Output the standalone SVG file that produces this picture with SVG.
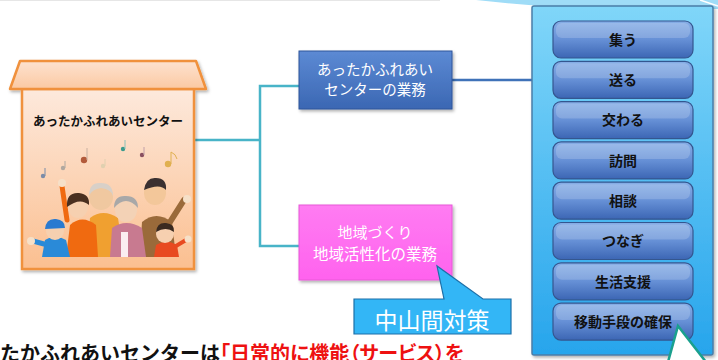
<svg xmlns="http://www.w3.org/2000/svg" width="718" height="360" viewBox="0 0 718 360">
  <defs>
    <linearGradient id="gHouse" x1="0" y1="0" x2="0" y2="1">
      <stop offset="0" stop-color="#fde9dc"/>
      <stop offset="1" stop-color="#fbbf90"/>
    </linearGradient>
    <linearGradient id="gRoof" x1="0" y1="0" x2="0" y2="1">
      <stop offset="0" stop-color="#fde2d0"/>
      <stop offset="1" stop-color="#fbc9a2"/>
    </linearGradient>
    <linearGradient id="gBlue" x1="0" y1="0" x2="0" y2="1">
      <stop offset="0" stop-color="#5c8ad4"/>
      <stop offset="1" stop-color="#3b67b3"/>
    </linearGradient>
    <linearGradient id="gPink" x1="0" y1="0" x2="0" y2="1">
      <stop offset="0" stop-color="#ff7cf2"/>
      <stop offset="1" stop-color="#ff62ee"/>
    </linearGradient>
    <linearGradient id="gPanel" x1="0" y1="0" x2="0" y2="1">
      <stop offset="0" stop-color="#80d6f9"/>
      <stop offset="1" stop-color="#27a5ec"/>
    </linearGradient>
    <linearGradient id="gBtn" x1="0" y1="0" x2="0" y2="1">
      <stop offset="0" stop-color="#86aee6"/>
      <stop offset="0.5" stop-color="#6690d6"/>
      <stop offset="1" stop-color="#3c66b4"/>
    </linearGradient>
    <filter id="shadow" x="-10%" y="-10%" width="130%" height="130%">
      <feDropShadow dx="1.5" dy="2" stdDeviation="1.5" flood-color="#000" flood-opacity="0.3"/>
    </filter>
    <style>
      text { font-family: "Noto Sans CJK JP", "Noto Sans", sans-serif; }
      .btn rect.b { fill: url(#gBtn); stroke: #34568f; stroke-width: 1.2; }
      .btn rect.h { fill: #ffffff; opacity: 0.18; }
      .btn text { font-size: 14px; font-weight: bold; fill: #111; text-anchor: middle; }
      .conn { fill: none; stroke: #48b4c8; stroke-width: 2.5; }
      .wt { fill: #fff; text-anchor: middle; }
    </style>
  </defs>

  <!-- background sweep at the top right -->
  <path d="M476,0 C520,5 560,8 600,9 L718,9 L718,0 Z" fill="#9fdcf7"/>
  <path d="M700,0 L718,6" stroke="#ffffff" stroke-width="1.5"/>
  <line x1="0" y1="0.5" x2="440" y2="0.5" stroke="#e6e6e6" stroke-width="1"/>

  <!-- connectors -->
  <g id="connectors">
    <path class="conn" d="M194,140 L260,140"/>
    <path class="conn" d="M299,86 L260,86 L260,246 L299,246"/>
    <path d="M452,80 L533,80" fill="none" stroke="#3f72b8" stroke-width="2.5"/>
  </g>

  <!-- center house -->
  <g id="center">
    <g filter="url(#shadow)">
      <rect x="22" y="89" width="172" height="180" fill="url(#gHouse)" stroke="#f0913c" stroke-width="2.5"/>
      <path d="M20,61 L196,61 L206,89 L10,89 Z" fill="url(#gRoof)" stroke="#f0913c" stroke-width="2.5" stroke-linejoin="round"/>
    </g>
    <text x="108" y="126" font-size="12.5" font-weight="bold" fill="#111" text-anchor="middle">あったかふれあいセンター</text>
    <!-- music notes -->
    <g>
      <circle cx="43" cy="176" r="2.2" fill="#7b8ca8"/><line x1="45" y1="176" x2="45" y2="168" stroke="#7b8ca8"/>
      <circle cx="63" cy="168" r="2.2" fill="#b0a8a0"/><line x1="65" y1="168" x2="65" y2="161" stroke="#b0a8a0"/>
      <circle cx="84" cy="160" r="3.2" fill="#b25a3a"/><line x1="87" y1="160" x2="87" y2="148" stroke="#c8b0a0"/>
      <circle cx="103" cy="166" r="2.2" fill="#e0d0b0"/><line x1="105" y1="166" x2="105" y2="159" stroke="#e0d0b0"/>
      <circle cx="123" cy="149" r="2.2" fill="#3a9a8c"/><line x1="125" y1="149" x2="125" y2="140" stroke="#8ac0b8"/>
      <circle cx="142" cy="155" r="2.2" fill="#8a5060"/><line x1="144" y1="155" x2="144" y2="147" stroke="#c0a0a8"/>
      <circle cx="168" cy="164" r="3.2" fill="#e0b050"/><line x1="171" y1="164" x2="171" y2="152" stroke="#e0b050"/><path d="M171,152 Q176,154 177,159" stroke="#e0b050" fill="none"/>
    </g>
    <!-- group of people -->
    <g>
      <!-- man on the right -->
      <path d="M140,257 L142,222 Q156,210 172,222 L176,257 Z" fill="#9a6a3a"/>
      <path d="M170,222 L184,200" stroke="#9a6a3a" stroke-width="6" stroke-linecap="round"/>
      <circle cx="187" cy="199" r="4" fill="#f6e0c8"/>
      <ellipse cx="155" cy="193" rx="11" ry="12" fill="#f3c79a"/>
      <path d="M144,190 Q146,177 156,178 Q167,178 166,190 Q160,183 144,190 Z" fill="#3a3030"/>
      <!-- bald old man -->
      <path d="M86,257 L90,218 Q103,208 118,218 L124,257 Z" fill="#f0a030"/>
      <ellipse cx="101" cy="197" rx="12" ry="13" fill="#f0c8a0"/>
      <path d="M89,196 Q89,182 101,183 Q113,183 113,196 Q111,189 101,188 Q92,189 89,196 Z" fill="#d8d0c8"/>
      <!-- woman with dark hair -->
      <path d="M66,257 L70,225 Q82,214 96,225 L98,257 Z" fill="#f06a10"/>
      <path d="M67,220 L62,186" stroke="#f06a10" stroke-width="5" stroke-linecap="round"/>
      <circle cx="62" cy="183" r="4" fill="#f6e0c8"/>
      <ellipse cx="78" cy="207" rx="10" ry="11" fill="#f6d0b0"/>
      <path d="M67,207 Q66,192 79,193 Q90,194 89,205 Q80,197 67,207 Z" fill="#4a3020"/>
      <!-- old woman -->
      <path d="M110,257 L112,228 Q126,218 142,228 L146,257 Z" fill="#c87a90"/>
      <rect x="121" y="232" width="7" height="25" fill="#fbeef0"/>
      <ellipse cx="126" cy="210" rx="11" ry="12" fill="#f3d2b6"/>
      <path d="M114,208 Q114,195 126,196 Q138,196 138,208 Q132,201 126,201 Q120,201 114,208 Z" fill="#a8a8a8"/>
      <!-- child on the left -->
      <path d="M42,257 L45,240 Q55,233 66,240 L70,257 Z" fill="#2a8ad8"/>
      <path d="M44,244 L33,241" stroke="#2a8ad8" stroke-width="5" stroke-linecap="round"/>
      <circle cx="31" cy="241" r="4" fill="#f6e0c8"/>
      <ellipse cx="55" cy="231" rx="9" ry="9" fill="#f6d0b0"/>
      <path d="M45,229 Q46,218 56,219 Q65,220 65,228 Z" fill="#2a7ad0"/>
      <!-- child on the right -->
      <path d="M154,257 L156,245 Q166,238 177,245 L179,257 Z" fill="#e84a20"/>
      <path d="M176,246 L186,240" stroke="#e84a20" stroke-width="4" stroke-linecap="round"/>
      <circle cx="188" cy="239" r="3.5" fill="#f6e0c8"/>
      <ellipse cx="165" cy="234" rx="9" ry="9" fill="#f6d0b0"/>
      <path d="M156,232 Q157,222 166,223 Q175,224 174,232 Q166,226 156,232 Z" fill="#3a2a20"/>
    </g>
  </g>

  <!-- business of the center -->
  <g id="business">
    <rect x="299" y="51" width="153" height="58" fill="url(#gBlue)" stroke="#2f559a" stroke-width="1" filter="url(#shadow)"/>
    <text class="wt" x="375" y="75" font-size="14.5">あったかふれあい</text>
    <text class="wt" x="375" y="95" font-size="14.5">センターの業務</text>
  </g>

  <!-- community business -->
  <g id="community">
    <rect x="299" y="205" width="153" height="75" fill="url(#gPink)" stroke="#e858d8" stroke-width="1" filter="url(#shadow)"/>
    <text class="wt" x="375" y="238" font-size="15">地域づくり</text>
    <text class="wt" x="375" y="260" font-size="15.5">地域活性化の業務</text>
  </g>

  <!-- callout -->
  <g id="callout">
    <path d="M354,299 L444,299 L437,266 L483,299 L511,299 L511,334 L354,334 Z" fill="#33b6f6" stroke="#1c6fa8" stroke-width="1.2" stroke-linejoin="miter"/>
    <text class="wt" x="432" y="329" font-size="23">中山間対策</text>
  </g>

  <!-- service panel -->
  <g id="services">
    <rect x="532" y="6" width="181" height="349" rx="2" fill="url(#gPanel)" stroke="#4a7ea8" stroke-width="1.5" filter="url(#shadow)"/>
    <g class="btn" id="svc1"><rect class="b" x="553" y="21" width="140" height="37" rx="8"/><rect class="h" x="556" y="23" width="134" height="15" rx="6"/><text x="623" y="45">集う</text></g>
    <g class="btn" id="svc2"><rect class="b" x="553" y="61.3" width="140" height="37" rx="8"/><rect class="h" x="556" y="63.3" width="134" height="15" rx="6"/><text x="623" y="85">送る</text></g>
    <g class="btn" id="svc3"><rect class="b" x="553" y="101.6" width="140" height="37" rx="8"/><rect class="h" x="556" y="103.6" width="134" height="15" rx="6"/><text x="623" y="125">交わる</text></g>
    <g class="btn" id="svc4"><rect class="b" x="553" y="141.9" width="140" height="37" rx="8"/><rect class="h" x="556" y="143.9" width="134" height="15" rx="6"/><text x="623" y="165.5">訪問</text></g>
    <g class="btn" id="svc5"><rect class="b" x="553" y="182.2" width="140" height="37" rx="8"/><rect class="h" x="556" y="184.2" width="134" height="15" rx="6"/><text x="623" y="206">相談</text></g>
    <g class="btn" id="svc6"><rect class="b" x="553" y="222.5" width="140" height="37" rx="8"/><rect class="h" x="556" y="224.5" width="134" height="15" rx="6"/><text x="623" y="246">つなぎ</text></g>
    <g class="btn" id="svc7"><rect class="b" x="553" y="262.8" width="140" height="37" rx="8"/><rect class="h" x="556" y="264.8" width="134" height="15" rx="6"/><text x="623" y="286.5">生活支援</text></g>
    <g class="btn" id="svc8"><rect class="b" x="553" y="303.1" width="140" height="37" rx="8"/><rect class="h" x="556" y="305.1" width="134" height="15" rx="6"/><text x="623" y="327">移動手段の確保</text></g>
  </g>

  <!-- pointer rising from below -->
  <path d="M668,362 L678,326 L706,362 Z" fill="#ffffff" stroke="#1aa08e" stroke-width="2.5" stroke-linejoin="miter"/>

  <!-- caption running off the bottom -->
  <text x="0" y="361" font-size="20" font-weight="bold" fill="#111">たかふれあいセンターは<tspan fill="#ee1111" style="font-feature-settings: 'palt'">「日常的に機能（サービス）を</tspan></text>
</svg>
